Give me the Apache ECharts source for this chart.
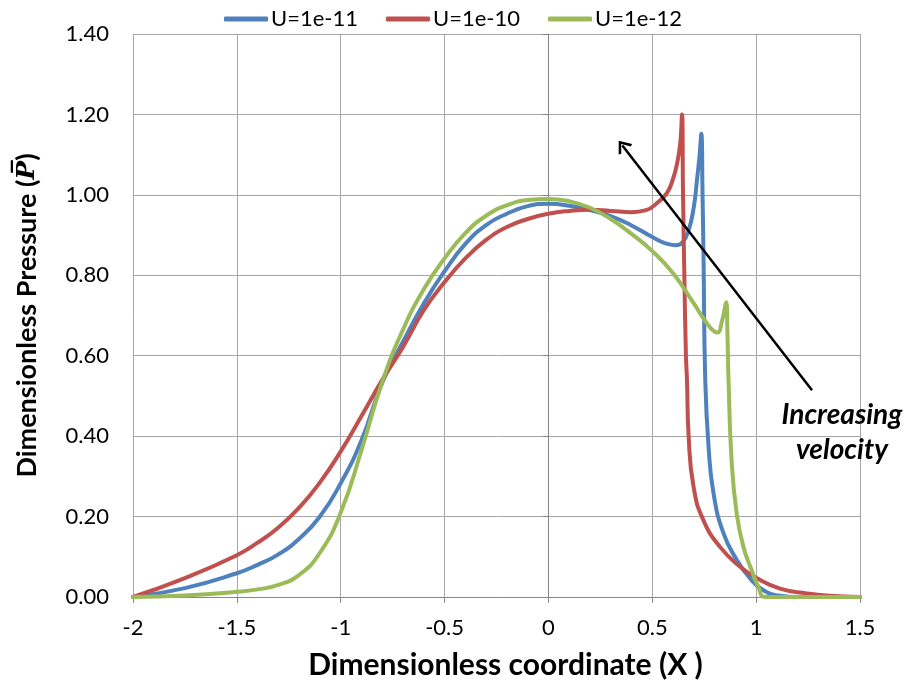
<!DOCTYPE html>
<html>
<head>
<meta charset="utf-8">
<script src="https://cdn.jsdelivr.net/npm/echarts@6/dist/echarts.min.js"></script>
<style>
  html, body { margin: 0; padding: 0; background: #fff; }
  #chart { width: 906px; height: 690px; }
</style>
</head>
<body>
<div id="chart"></div>
<script>
// Dimensionless pressure profiles for three entrainment velocities
const seriesNames = ['U=1e-11', 'U=1e-10', 'U=1e-12'];
const seriesColors = ['#4F81BD', '#C0504D', '#9BBB59'];

const xU11 = [-2, -1.75, -1.5, -1.4, -1.3, -1.2, -1.1, -1.0, -0.9, -0.8, -0.7, -0.6, -0.5, -0.4, -0.3, -0.2, -0.1, 0, 0.1, 0.2, 0.3, 0.4, 0.5, 0.56, 0.61, 0.645, 0.675, 0.7, 0.715, 0.728, 0.736, 0.742, 0.747, 0.755, 0.771, 0.795, 0.843, 0.907, 0.971, 1.035, 1.115, 1.2, 1.5];
const pU11 = [0, 0.022, 0.059, 0.08, 0.106, 0.145, 0.2, 0.283, 0.39, 0.533, 0.635, 0.73, 0.81, 0.878, 0.925, 0.953, 0.972, 0.978, 0.973, 0.962, 0.947, 0.924, 0.895, 0.88, 0.875, 0.882, 0.912, 0.97, 1.036, 1.1, 1.152, 1.0, 0.83, 0.54, 0.373, 0.257, 0.158, 0.092, 0.046, 0.017, 0.003, 0, 0];

const xU10 = [-2, -1.75, -1.5, -1.4, -1.3, -1.2, -1.1, -1.0, -0.9, -0.8, -0.7, -0.6, -0.5, -0.4, -0.3, -0.2, -0.1, 0, 0.1, 0.2, 0.3, 0.4, 0.47, 0.53, 0.571, 0.6, 0.619, 0.635, 0.643, 0.648, 0.655, 0.662, 0.667, 0.675, 0.699, 0.747, 0.827, 0.923, 1.006, 1.115, 1.243, 1.35, 1.5];
const pU10 = [0, 0.047, 0.104, 0.135, 0.173, 0.222, 0.285, 0.362, 0.45, 0.54, 0.622, 0.713, 0.783, 0.842, 0.888, 0.92, 0.94, 0.953, 0.96, 0.963, 0.96, 0.957, 0.962, 0.983, 1.005, 1.04, 1.077, 1.13, 1.2, 1.0, 0.78, 0.6, 0.54, 0.4, 0.273, 0.19, 0.124, 0.075, 0.046, 0.021, 0.009, 0.003, 0];

const xU12 = [-2, -1.75, -1.5, -1.4, -1.3, -1.2, -1.1, -1.0, -0.9, -0.8, -0.7, -0.6, -0.5, -0.4, -0.3, -0.2, -0.1, 0, 0.1, 0.2, 0.3, 0.4, 0.5, 0.6, 0.7, 0.75, 0.8, 0.815, 0.835, 0.856, 0.862, 0.867, 0.883, 0.907, 0.939, 0.979, 1.011, 1.043, 1.5];
const pU12 = [0, 0.004, 0.013, 0.019, 0.03, 0.055, 0.11, 0.21, 0.365, 0.535, 0.665, 0.765, 0.842, 0.905, 0.948, 0.974, 0.987, 0.99, 0.984, 0.968, 0.94, 0.903, 0.86, 0.805, 0.73, 0.69, 0.66, 0.658, 0.685, 0.733, 0.65, 0.54, 0.33, 0.205, 0.124, 0.066, 0.025, 0, 0];

const xTicks = { min: -2, max: 1.5, step: 0.5 };
const yTicks = { min: 0, max: 1.4, step: 0.2 };

// Arrow endpoints and note position, in data units
const arrowFrom = [1.269, 0.514];
const arrowTo = [0.356, 1.123];
const notePos = [1.413, 0.41];
const noteText = 'Increasing\nvelocity';

const zip = (xs, ys) => xs.map((x, i) => [x, ys[i]]);
const FONT = 'Lato, "Open Sans", sans-serif';

const lineSeries = [
  { name: seriesNames[0], data: zip(xU11, pU11), color: seriesColors[0] },
  { name: seriesNames[1], data: zip(xU10, pU10), color: seriesColors[1] },
  { name: seriesNames[2], data: zip(xU12, pU12), color: seriesColors[2] }
].map(s => ({
  name: s.name,
  type: 'line',
  data: s.data,
  showSymbol: false,
  smooth: 0.5,
  lineStyle: { width: 4, color: s.color, cap: 'round', join: 'round' },
  itemStyle: { color: s.color },
  z: 3
}));

// Annotation arrow (open chevron head) and label ride on the last series
lineSeries[2].markLine = {
  silent: true,
  animation: false,
  symbol: ['none', 'path://M0,10 L7,0 L14,10 L12,11 L7,3.8 L2,11 Z'],
  symbolSize: [17, 12],
  lineStyle: { color: '#000', width: 2.5, type: 'solid' },
  label: { show: false },
  data: [[{ coord: arrowFrom }, { coord: arrowTo }]]
};
lineSeries[2].markPoint = {
  silent: true,
  animation: false,
  symbol: 'circle',
  symbolSize: 0,
  data: [{ coord: notePos }],
  label: {
    show: true,
    formatter: noteText,
    color: '#000',
    fontFamily: FONT,
    fontStyle: 'italic',
    fontWeight: 'bold',
    fontSize: 28,
    lineHeight: 35,
    align: 'center',
    verticalAlign: 'middle'
  }
};

const chart = echarts.init(document.getElementById('chart'), null, { renderer: 'canvas' });
chart.setOption({
  animation: false,
  backgroundColor: '#fff',
  textStyle: { fontFamily: FONT },
  legend: {
    top: 3,
    left: 'center',
    icon: 'roundRect',
    itemWidth: 44,
    itemHeight: 5,
    itemGap: 28,
    textStyle: { fontFamily: FONT, fontSize: 22, color: '#000', padding: [0, 0, 0, -2] },
    data: seriesNames
  },
  grid: { left: 133, right: 46, top: 34, bottom: 93, containLabel: false },
  xAxis: {
    type: 'value',
    min: xTicks.min,
    max: xTicks.max,
    interval: xTicks.step,
    name: 'Dimensionless coordinate (X )',
    nameLocation: 'middle',
    nameGap: 53,
    nameTextStyle: { fontFamily: FONT, fontSize: 30, fontWeight: 'bold', color: '#000', padding: [0, 0, 0, 18] },
    axisLine: { show: true, onZero: false, lineStyle: { color: '#868686', width: 1 } },
    axisTick: { show: true, length: 6, lineStyle: { color: '#868686' } },
    axisLabel: { fontFamily: FONT, fontSize: 22, color: '#000', margin: 20, formatter: v => String(v) },
    splitLine: { show: true, lineStyle: { color: '#A6A6A6', width: 1 } }
  },
  yAxis: {
    type: 'value',
    min: yTicks.min,
    max: yTicks.max,
    interval: yTicks.step,
    name: 'Dimensionless Pressure ({p|P\u0305})',
    nameLocation: 'middle',
    nameGap: 92,
    nameRotate: 90,
    nameTextStyle: {
      fontFamily: FONT, fontSize: 27, fontWeight: 'bold', color: '#000',
      rich: {
        p: { fontFamily: '"DejaVu Serif", serif', fontStyle: 'italic', fontWeight: 'bold', fontSize: 25, color: '#000' }
      }
    },
    axisLine: { show: true, lineStyle: { color: '#868686', width: 1 } },
    axisTick: { show: true, length: 6, lineStyle: { color: '#868686' } },
    axisLabel: { fontFamily: FONT, fontSize: 22, color: '#000', margin: 24, formatter: v => v.toFixed(2) },
    splitLine: { show: true, lineStyle: { color: '#A6A6A6', width: 1 } }
  },
  series: lineSeries
});
</script>
</body>
</html>
